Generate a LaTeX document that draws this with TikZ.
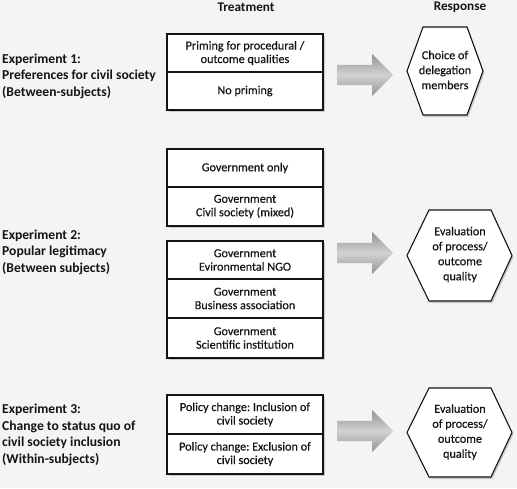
\documentclass[tikz,border=0pt]{standalone}
\usepackage{fontspec}
\setmainfont{Carlito}
\newfontfamily\cellfont{Carlito}[FakeBold=0.4]
\usetikzlibrary{shadows,shapes.arrows}

\definecolor{bggray}{RGB}{244,244,244}
\definecolor{inkgray}{RGB}{20,20,20}

\tikzset{
  cell/.style={draw=inkgray, line width=1.1pt, fill=white, minimum width=156pt,
    inner sep=0pt, align=center, text=inkgray, font=\fontsize{12.2}{13.5}\selectfont\cellfont},
  grp/.style={cell, drop shadow={shadow xshift=1.5pt, shadow yshift=-2pt, opacity=.35}},
  exptext/.style={anchor=west, align=left, inner sep=0pt, text=inkgray,
    font=\fontsize{13.6}{16.5}\selectfont\bfseries},
  colhead/.style={inner sep=0pt, text=inkgray, font=\fontsize{13.2}{15}\selectfont\bfseries},
  blockarrow/.style={single arrow, draw=none, anchor=tail, inner xsep=0pt, inner ysep=10pt,
    minimum height=56pt, minimum width=1pt, single arrow head extend=11pt,
    top color=gray!85, bottom color=gray!85, middle color=gray!35},
  hexline/.style={draw=inkgray, line width=1.1pt, fill=white, line join=miter,
    drop shadow={shadow xshift=1.5pt, shadow yshift=-2pt, opacity=.35}},
  resptext/.style={inner sep=0pt, align=center, text=inkgray, font=\fontsize{12.2}{15}\selectfont\cellfont},
}

\begin{document}
\frenchspacing
\begin{tikzpicture}[x=1pt, y=-1pt]

  %% ════ canvas ════
  \fill[bggray] (0,0) rectangle (517,488);

  %% ════ column heads ════
  \node[colhead] (trt) at (246,7) {Treatment};
  \node[colhead] (rsp) at (460,7) {Response};

  %% ════ Experiment 1 ════
  \node[exptext] (exp1) at (2,76) {Experiment 1:\\Preferences for civil society\\(Between-subjects)};
  \node[grp, minimum height=76pt] (g1) at (245,72) {};
  \node[cell, minimum height=38pt] (prime) at (245,53) {Priming for procedural /\\outcome qualities};
  \node[cell, minimum height=38pt] (noprime) at (245,91) {No priming};
  \node[blockarrow] (arr1) at (337,75) {};
  \draw[hexline] (407,71) -- (423,27) -- (467,27) -- (483,71) -- (467,115) -- (423,115) -- cycle;
  \node[resptext] (resp1) at (445,70) {Choice of\\delegation\\members};

  %% ════ Experiment 2 ════
  \node[exptext] (exp2) at (2,252) {Experiment 2:\\Popular legitimacy\\(Between subjects)};
  \node[grp, minimum height=77pt] (g2a) at (245,187.5) {};
  \node[cell, minimum height=38pt] (govonly) at (245,168) {Government only};
  \node[cell, minimum height=39pt] (govmix) at (245,206.5) {Government\\Civil society (mixed)};
  \node[grp, minimum height=117pt] (g2b) at (245,299.5) {};
  \node[cell, minimum height=38pt] (govngo) at (245,260) {Government\\Evironmental NGO};
  \node[cell, minimum height=39pt] (govbiz) at (245,298.5) {Government\\Business association};
  \node[cell, minimum height=40pt] (govsci) at (245,338) {Government\\Scientific institution};
  \node[blockarrow] (arr2) at (337,253) {};
  \draw[hexline] (407,255.5) -- (429,210) -- (491,210) -- (512,255.5) -- (491,301) -- (429,301) -- cycle;
  \node[resptext] (resp2) at (460,254.5) {Evaluation\\of process/\\outcome\\quality};

  %% ════ Experiment 3 ════
  \node[exptext] (exp3) at (2,435) {Experiment 3:\\Change to status quo of\\civil society inclusion\\(Within-subjects)};
  \node[grp, minimum height=79pt] (g3) at (245,434.5) {};
  \node[cell, minimum height=39pt] (incl) at (245,414.5) {Policy change: Inclusion of\\civil society};
  \node[cell, minimum height=40pt] (excl) at (245,454) {Policy change: Exclusion of\\civil society};
  \node[blockarrow] (arr3) at (337,431) {};
  \draw[hexline] (407,432.5) -- (429,388) -- (491,388) -- (512,432.5) -- (491,477) -- (429,477) -- cycle;
  \node[resptext] (resp3) at (460,432) {Evaluation\\of process/\\outcome\\quality};

  \pgfresetboundingbox
  \path[use as bounding box] (0,0) rectangle (517,488);
\end{tikzpicture}
\end{document}
